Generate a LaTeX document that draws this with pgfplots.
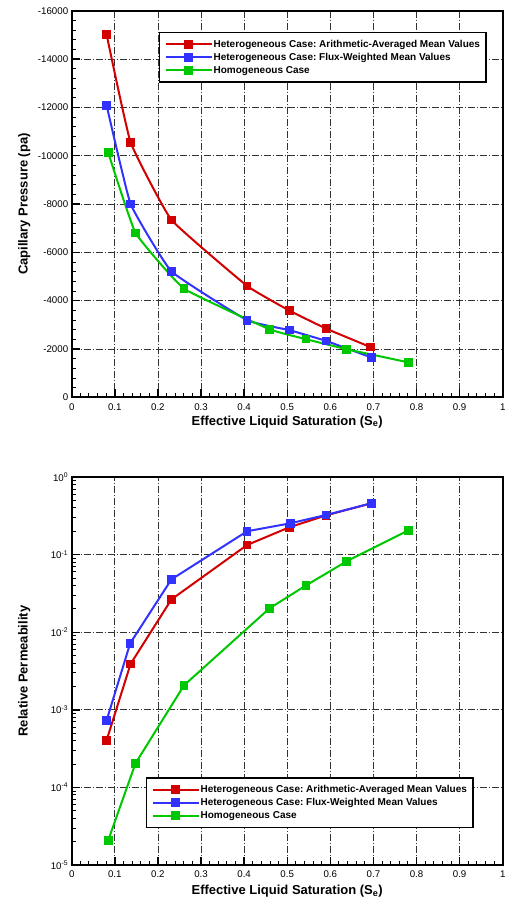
\documentclass[border=0pt]{standalone}
\usepackage{pgfplots}
\pgfplotsset{compat=1.18}
\usepackage{fontspec}
\setmainfont{Liberation Sans}
\frenchspacing

\definecolor{cRed}{RGB}{210,0,0}
\definecolor{cBlue}{RGB}{50,50,255}
\definecolor{cGreen}{RGB}{0,200,0}

\pgfplotsset{
  satplot/.style={
    scale only axis,
    width=431pt,
    xmin=0, xmax=1,
    xtick={0,0.1,0.2,0.3,0.4,0.5,0.6,0.7,0.8,0.9,1},
    xticklabels={0,0.1,0.2,0.3,0.4,0.5,0.6,0.7,0.8,0.9,1},
    minor x tick num=4,
    tick pos=left,
    tick align=inside,
    axis line style={line width=1.8pt},
    major tick length=8pt,
    minor tick length=4pt,
    major tick style={black, line width=1.4pt},
    minor tick style={black, line width=0.9pt},
    grid=major,
    major grid style={black!80, line width=0.7pt, dash pattern=on 7pt off 2pt on 1pt off 2pt},
    tick label style={font=\fontsize{9.7}{11}\selectfont},
    xticklabel style={yshift=-2.5pt},
    label style={font=\fontsize{13}{15}\selectfont\bfseries},
    xlabel={Effective Liquid Saturation (S\textsubscript{e})},
    every axis plot/.append style={line width=2pt, mark=square*, mark size=3.3pt, mark options={solid}},
    legend cell align=left,
    legend style={
      draw=black, line width=1.2pt, fill=white,
      inner xsep=5pt, inner ysep=6pt,
      row sep=1.5pt,
      font=\fontsize{10}{12}\selectfont\bfseries,
      nodes={inner sep=1pt, text height=7.5pt, text depth=2pt},
    },
    legend image code/.code={
      \draw[mark repeat=2, mark phase=2, line width=2pt]
        plot coordinates {(0pt,0pt) (23pt,0pt) (46pt,0pt)};
    },
  }
}

\begin{document}
\begin{tikzpicture}

% Capillary pressure versus effective saturation
\begin{axis}[
  satplot,
  at={(71.7pt,502.7pt)}, anchor=south west,
  height=386.6pt,
  y dir=reverse,
  ymin=-16000, ymax=0,
  ytick={-16000,-14000,-12000,-10000,-8000,-6000,-4000,-2000,0},
  yticklabels={-16000,-14000,-12000,-10000,-8000,-6000,-4000,-2000,0},
  minor y tick num=4,
  ylabel={Capillary Pressure (pa)},
  ylabel style={at={(axis description cs:-0.11,0.5)}, anchor=center},
  xlabel style={at={(axis description cs:0.5,-0.063)}, anchor=center},
  legend style={at={(axis description cs:0.2026,0.945)}, anchor=north west},
]
\addplot[color=cRed, smooth, tension=0.2] coordinates {
  (0.081,-15010) (0.1366,-10550) (0.2315,-7340) (0.407,-4610)
  (0.505,-3590) (0.590,-2845) (0.693,-2080)
};
\addlegendentry{Heterogeneous Case: Arithmetic-Averaged Mean Values}
\addplot[color=cBlue, smooth, tension=0.2] coordinates {
  (0.081,-12085) (0.1366,-8000) (0.2315,-5210) (0.407,-3190)
  (0.505,-2780) (0.590,-2335) (0.695,-1650)
};
\addlegendentry{Heterogeneous Case: Flux-Weighted Mean Values}
\addplot[color=cGreen, smooth, tension=0.2] coordinates {
  (0.0847,-10130) (0.148,-6805) (0.2607,-4495) (0.459,-2815)
  (0.544,-2405) (0.638,-1990) (0.7815,-1445)
};
\addlegendentry{Homogeneous Case}
\end{axis}

% Relative permeability versus effective saturation
\begin{axis}[
  satplot,
  at={(71.7pt,35pt)}, anchor=south west,
  height=388pt,
  ymode=log,
  ymin=1e-5, ymax=1,
  ytick={1e-5,1e-4,1e-3,1e-2,1e-1,1},
  yticklabels={10\textsuperscript{-5},10\textsuperscript{-4},10\textsuperscript{-3},10\textsuperscript{-2},10\textsuperscript{-1},10\textsuperscript{0}},
  minor ytick={2e-5,3e-5,4e-5,5e-5,6e-5,7e-5,8e-5,9e-5,
               2e-4,3e-4,4e-4,5e-4,6e-4,7e-4,8e-4,9e-4,
               2e-3,3e-3,4e-3,5e-3,6e-3,7e-3,8e-3,9e-3,
               2e-2,3e-2,4e-2,5e-2,6e-2,7e-2,8e-2,9e-2,
               0.2,0.3,0.4,0.5,0.6,0.7,0.8,0.9},
  ylabel={Relative Permeability},
  ylabel style={at={(axis description cs:-0.11,0.5)}, anchor=center},
  xlabel style={at={(axis description cs:0.5,-0.067)}, anchor=center},
  legend style={at={(axis description cs:0.1724,0.226)}, anchor=north west},
]
\addplot[color=cRed] coordinates {
  (0.081,4.05e-4) (0.1366,3.9e-3) (0.2315,0.0265) (0.407,0.133)
  (0.505,0.225) (0.590,0.32) (0.695,0.458)
};
\addlegendentry{Heterogeneous Case: Arithmetic-Averaged Mean Values}
\addplot[color=cBlue] coordinates {
  (0.081,7.3e-4) (0.1357,7.2e-3) (0.2315,0.048) (0.407,0.2)
  (0.507,0.253) (0.590,0.324) (0.695,0.458)
};
\addlegendentry{Heterogeneous Case: Flux-Weighted Mean Values}
\addplot[color=cGreen] coordinates {
  (0.0847,2.08e-5) (0.148,2.04e-4) (0.2607,2.07e-3) (0.459,0.0203)
  (0.544,0.0402) (0.638,0.082) (0.7815,0.206)
};
\addlegendentry{Homogeneous Case}
\end{axis}

\pgfresetboundingbox
\useasboundingbox (0pt,0pt) rectangle (504pt,900pt);
\end{tikzpicture}
\end{document}
